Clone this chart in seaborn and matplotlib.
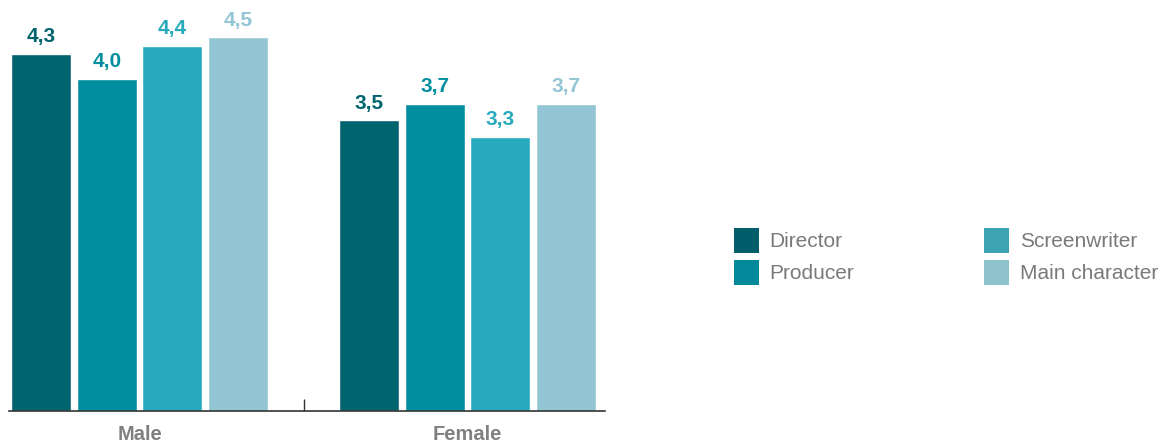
import matplotlib
matplotlib.use("Agg")
import matplotlib.pyplot as plt
import seaborn as sns
import pandas as pd
from matplotlib.patches import Patch

genders = ["Male", "Female"]
roles = ["Director", "Producer", "Screenwriter", "Main character"]
director = [4.3, 3.5]
producer = [4.0, 3.7]
screenwriter = [4.4, 3.3]
main_character = [4.5, 3.7]
colors = ["#00646F", "#028E9F", "#28AABD", "#93C6D4"]
legend_colors = ["#005E6A", "#02899A", "#3DA3B3", "#8EC3CE"]

rows = []
for role, vals in zip(roles, [director, producer, screenwriter, main_character]):
    for g, v in zip(genders, vals):
        rows.append({"gender": g, "role": role, "value": v})
df = pd.DataFrame(rows)

sns.set_style("white")
plt.rcParams["font.family"] = ["Liberation Sans", "DejaVu Sans"]

fig = plt.figure(figsize=(11.58, 4.46), dpi=100)
ax = fig.add_axes([9 / 1158, 35 / 446, 596 / 1158, 411 / 446])

sns.barplot(data=df, x="gender", y="value", hue="role", order=genders,
            hue_order=roles, palette=colors, width=0.8, gap=0.085,
            saturation=1, legend=False, ax=ax, errorbar=None)

for cont, col in zip(ax.containers, colors):
    labels = [f"{b.get_height():.1f}".replace(".", ",") for b in cont]
    ax.bar_label(cont, labels=labels, padding=5.5, color=col,
                 fontweight="bold", fontsize=15)

ax.set_xlim(-0.398, 1.419)
ax.set_ylim(0, 4.95)
ax.set_xlabel("")
ax.set_ylabel("")
ax.set_yticks([])
for s in ["top", "right", "left"]:
    ax.spines[s].set_visible(False)
ax.spines["bottom"].set_color("#333333")
ax.spines["bottom"].set_linewidth(1.2)

ax.set_xticks([0, 1])
ax.set_xticklabels(genders, fontweight="bold", fontsize=14.5, color="#808080")
ax.tick_params(axis="x", which="major", length=0, pad=10, bottom=True)
ax.set_xticks([0.5], minor=True)
ax.tick_params(axis="x", which="minor", length=8.6, width=1, bottom=True,
               direction="in", color="#333333")

handles = [Patch(facecolor=c, edgecolor="none") for c in legend_colors]
leg = fig.legend(handles, roles, loc="center left",
                 bbox_to_anchor=(734 / 1158, 189.5 / 446), ncol=2,
                 frameon=False, fontsize=15, handlelength=1.2,
                 handleheight=1.45, handletextpad=0.5, labelspacing=0.35,
                 columnspacing=6.25, borderpad=0, borderaxespad=0)
for t in leg.get_texts():
    t.set_color("#7a7a7a")

fig.savefig("out.png", dpi=100)
